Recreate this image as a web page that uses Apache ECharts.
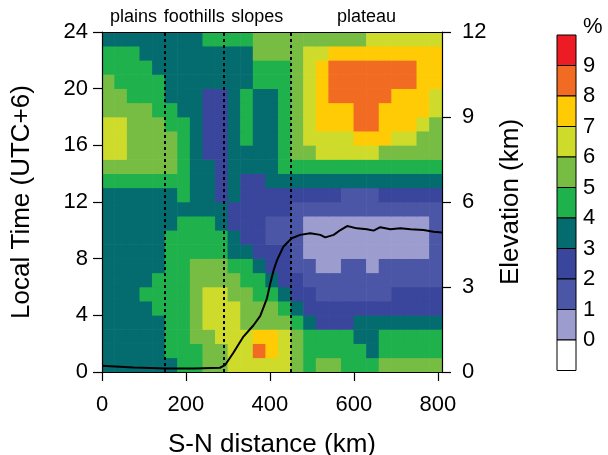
<!DOCTYPE html>
<html>
<head>
<meta charset="utf-8">
<script src="https://cdn.jsdelivr.net/npm/echarts@6/dist/echarts.min.js"></script>
<style>html,body{margin:0;padding:0;background:#fff}#c{width:608px;height:455px}</style>
</head>
<body>
<div id="c"></div>
<script>
// x cell centres (km), 30 km wide cells
var distKm = [15,45,75,105,135,165,195,225,255,285,315,345,375,405,435,465,495,525,555,585,615,645,675,705,735,765,795];
// y cell centres (local hour), 1 h tall cells
var hours = [0.5,1.5,2.5,3.5,4.5,5.5,6.5,7.5,8.5,9.5,10.5,11.5,12.5,13.5,14.5,15.5,16.5,17.5,18.5,19.5,20.5,21.5,22.5,23.5];
// percentage class (value n means n..n+1 %), one row per hour, from 0 h to 23 h
var h00 = [3,3,3,3,3,3,4,4,5,5,6,6,6,6,6,5,4,5,5,4,4,4,5,5,5,5,5];
var h01 = [3,3,3,3,3,4,4,4,5,5,6,6,8,7,6,5,4,4,4,4,4,3,4,4,4,4,4];
var h02 = [3,3,3,3,3,4,4,5,5,6,6,6,7,7,6,5,4,4,4,4,3,3,4,4,4,4,4];
var h03 = [3,3,3,3,3,4,4,5,6,6,6,5,5,5,5,4,3,2,2,2,3,3,3,3,3,3,3];
var h04 = [3,3,3,3,4,4,4,5,6,6,6,5,5,5,4,3,2,2,2,2,2,2,2,2,2,2,2];
var h05 = [3,3,3,4,4,4,4,5,6,6,5,5,4,4,3,2,2,1,1,1,1,1,1,2,2,2,2];
var h06 = [3,3,3,3,4,4,4,5,5,5,5,4,4,3,2,2,1,1,1,1,1,1,1,1,1,1,1];
var h07 = [3,3,3,3,3,4,4,5,5,5,4,4,3,2,2,1,1,0,0,1,1,0,1,1,1,1,1];
var h08 = [3,3,3,3,3,4,4,4,4,4,3,3,2,2,2,1,0,0,0,0,0,0,0,0,0,0,1];
var h09 = [3,3,3,3,3,4,4,4,4,4,3,2,2,1,1,1,0,0,0,0,0,0,0,0,0,0,1];
var h10 = [3,3,3,3,3,3,4,4,4,3,2,2,2,1,1,1,0,0,0,0,0,0,0,0,0,0,1];
var h11 = [3,3,3,3,3,3,3,3,3,3,2,2,2,2,2,1,1,1,1,1,1,1,1,1,1,1,1];
var h12 = [3,3,3,3,3,3,4,3,3,2,3,2,2,2,2,2,2,2,2,1,1,1,2,2,2,2,2];
var h13 = [4,4,4,4,4,4,4,3,3,2,3,2,2,3,3,3,3,3,3,3,3,3,3,3,3,3,3];
var h14 = [5,5,5,5,5,5,4,3,3,2,3,3,3,3,4,4,4,4,4,4,4,4,4,4,4,4,4];
var h15 = [6,6,5,5,5,5,4,3,2,2,3,3,3,3,4,5,5,6,6,6,6,6,5,5,5,5,5];
var h16 = [6,6,5,5,5,5,4,3,2,2,3,4,3,3,4,5,6,6,6,6,7,7,7,6,6,5,5];
var h17 = [6,6,5,5,5,4,4,3,2,2,3,4,3,3,4,5,6,7,7,7,8,8,7,7,7,6,5];
var h18 = [5,5,5,5,4,4,3,3,2,2,3,4,3,3,4,5,6,7,7,7,8,8,7,7,7,7,6];
var h19 = [5,5,4,4,4,3,3,3,2,2,3,4,3,3,4,5,6,7,8,8,8,8,8,7,7,7,6];
var h20 = [5,4,4,4,4,3,3,3,3,3,3,3,4,4,4,5,6,7,8,8,8,8,8,8,8,7,7];
var h21 = [4,4,4,4,3,3,3,3,3,3,3,3,4,4,4,5,6,7,8,8,8,8,8,8,8,7,7];
var h22 = [4,4,4,3,3,3,3,3,3,3,3,3,5,5,5,5,6,6,7,7,7,7,7,7,7,7,7];
var h23 = [3,3,3,3,3,3,3,3,4,4,4,4,5,5,5,5,5,5,5,5,5,6,6,6,6,6,6];
var pctRows = [h00,h01,h02,h03,h04,h05,h06,h07,h08,h09,h10,h11,h12,h13,h14,h15,h16,h17,h18,h19,h20,h21,h22,h23];

// terrain elevation along the transect
var elevDist = [0,75,154,220,281,293,313,337,361,377,393,401,409,417,432,452,472,496,520,532,552,568,584,607,631,647,663,687,711,735,766,790,810];
var elevKm   = [0.22,0.16,0.12,0.12,0.15,0.24,0.68,1.25,1.65,1.98,2.6,3.13,3.6,3.95,4.42,4.72,4.84,4.90,4.84,4.75,4.84,5.01,5.15,5.07,5.04,4.99,5.11,5.04,5.07,5.04,5.01,4.95,4.92];

// region boundaries and labels
var regionBounds = [150, 290, 450];
var regionNames = ['plains','foothills','slopes','plateau'];
var regionCentres = [75, 220, 370, 630];

// colour levels
var levels = [0,1,2,3,4,5,6,7,8,9];
var levelColors = ['#9c9ccf','#4c56a6','#39469c','#046b6f','#1eb14c','#77bd44','#cedb2b','#ffcb05','#f26b23','#ed1c24'];
var belowColor = '#ffffff';

var cellW = 30, cellH = 1;
var heat = [];
for (var r = 0; r < hours.length; r++) {
  for (var c = 0; c < distKm.length; c++) {
    heat.push([distKm[c], hours[r], pctRows[r][c]]);
  }
}
var elevData = elevDist.map(function(d, i){ return [d, elevKm[i]]; });
var regionData = regionNames.map(function(n, i){ return [regionCentres[i], 24, n]; });

var pieces = levels.map(function(l, i){
  return i < levels.length - 1 ? {gte: l, lt: levels[i+1], color: levelColors[i]} : {gte: l, color: levelColors[i]};
});

var FONT = 'Liberation Sans, Arial, sans-serif';
var chart = echarts.init(document.getElementById('c'), null, {renderer: 'canvas'});

// colour bar (legend)
var cbX = 557, cbTop = 35, cbW = 19, cbH = 30.5;
var cbColors = levelColors.slice().reverse().concat([belowColor]);
var graphics = [];
cbColors.forEach(function(col, i){
  graphics.push({type:'rect', shape:{x:cbX, y:cbTop + i*cbH, width:cbW, height:cbH},
    style:{fill: col, stroke:'#000', lineWidth:1}, z:10});
});
var cbLabels = levels.slice().reverse();
cbLabels.forEach(function(l, i){
  graphics.push({type:'text', x: cbX + 26, y: cbTop + (i+1)*cbH,
    style:{text: String(l), font: '22px ' + FONT, fill:'#000', verticalAlign:'middle', align:'left'}, z:10});
});
graphics.push({type:'text', x: cbX + 26, y: cbTop - 8,
  style:{text:'%', font:'22px ' + FONT, fill:'#000', verticalAlign:'middle', align:'left'}, z:10});

function axisBase(extra) {
  return Object.assign({
    axisLine:{show:true, onZero:false, lineStyle:{color:'#000', width:1.2}},
    axisTick:{show:true, inside:false, length:9, lineStyle:{color:'#000', width:1.2}},
    splitLine:{show:false},
    z: 10
  }, extra);
}

chart.setOption({
  animation:false,
  backgroundColor:'#fff',
  grid:{left:102, right:166, top:32, bottom:83, containLabel:false, outerBoundsMode:'none'},
  textStyle:{fontFamily: FONT},
  visualMap:{type:'piecewise', show:false, dimension:2, seriesIndex:0, pieces:pieces},
  xAxis:[
    axisBase({type:'value', position:'bottom', min:0, max:810, interval:200,
      name:'S-N distance (km)', nameLocation:'middle', nameGap:60,
      nameTextStyle:{fontSize:26, color:'#000', fontFamily:FONT},
      axisLabel:{fontSize:22, color:'#000', margin:22, fontFamily:FONT, showMaxLabel:false}}),
    axisBase({type:'value', position:'top', min:0, max:810,
      axisTick:{show:false}, axisLabel:{show:false}})
  ],
  yAxis:[
    axisBase({type:'value', position:'left', min:0, max:24, interval:4,
      name:'Local Time (UTC+6)', nameLocation:'middle', nameGap:67, nameRotate:90,
      nameTextStyle:{fontSize:26, color:'#000', fontFamily:FONT},
      axisLabel:{fontSize:22, color:'#000', margin:14, fontFamily:FONT}}),
    axisBase({type:'value', position:'right', min:0, max:12, interval:3,
      name:'Elevation (km)', nameLocation:'middle', nameGap:55, nameRotate:90,
      nameTextStyle:{fontSize:26, color:'#000', fontFamily:FONT},
      axisLabel:{fontSize:22, color:'#000', margin:20, fontFamily:FONT}})
  ],
  graphic: graphics,
  series:[
    {
      type:'custom', name:'pct', coordinateSystem:'cartesian2d', xAxisIndex:0, yAxisIndex:0,
      encode:{x:0, y:1}, data: heat, clip:true, silent:true,
      renderItem:function(params, api){
        var x = api.value(0), y = api.value(1);
        var p1 = api.coord([x - cellW/2, y + cellH/2]);
        var p2 = api.coord([x + cellW/2, y - cellH/2]);
        return {type:'rect', shape:{x:p1[0]-0.3, y:p1[1]-0.3, width:p2[0]-p1[0]+0.6, height:p2[1]-p1[1]+0.6},
          style:{fill: api.visual('color')}};
      },
      markLine:{
        silent:true, symbol:['none','none'], label:{show:false},
        lineStyle:{color:'#000', width:2, type:[3,3], opacity:1},
        data: regionBounds.map(function(b){ return {xAxis:b}; })
      }
    },
    {
      type:'line', name:'elev', xAxisIndex:0, yAxisIndex:1, data: elevData,
      showSymbol:false, symbol:'none', smooth:false,
      lineStyle:{color:'#000', width:2}, z:5
    },
    {
      type:'scatter', name:'regions', xAxisIndex:0, yAxisIndex:0, data: regionData,
      symbolSize:0, silent:true, clip:false, itemStyle:{opacity:1},
      label:{show:true, position:'top', distance:6, fontSize:18, color:'#000', opacity:1, fontFamily:FONT,
        formatter:function(p){ return p.value[2]; }}
    }
  ]
});
</script>
</body>
</html>
